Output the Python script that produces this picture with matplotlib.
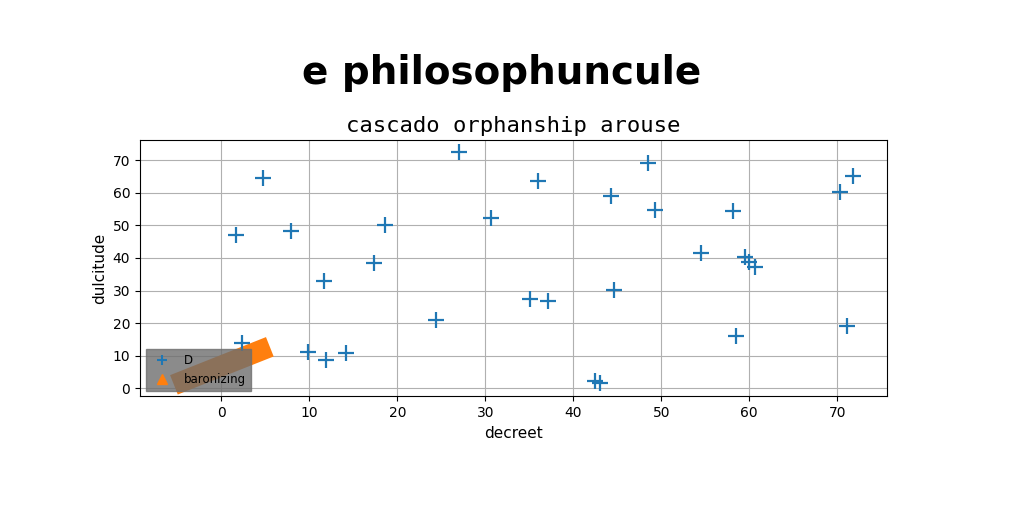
import matplotlib
matplotlib.use("Agg")
import matplotlib.pyplot as plt
from matplotlib.lines import Line2D

# series "D" (blue plus markers)
d_x = [1.6, 4.7, 2.3, 7.9, 9.8, 11.9, 14.2, 11.7, 17.4, 18.6, 24.4, 27.0, 30.6,
       36.0, 35.1, 37.1, 42.5, 43.0, 44.3, 44.6, 48.5, 49.3, 54.5, 58.2, 58.5,
       59.5, 60.0, 60.6, 70.3, 71.8, 71.1]
d_y = [47.0, 64.5, 14.0, 48.2, 11.0, 8.5, 10.8, 33.0, 38.6, 50.2, 21.0, 72.7, 52.3,
       63.8, 27.3, 26.7, 2.2, 1.5, 59.0, 30.1, 69.3, 54.8, 41.5, 54.4, 16.0,
       40.3, 38.8, 37.1, 60.2, 65.2, 19.0]

# series "baronizing" (thick orange stroke)
bar_x = [-5.4, 5.5]
bar_y = [1.0, 12.7]

fig = plt.figure(figsize=(10.24, 5.12), dpi=100)
ax = fig.add_axes([0.1367, 0.2256, 0.7295, 0.501])

ax.scatter(d_x, d_y, marker='+', s=135, linewidths=1.6, color='#1f77b4', zorder=3)
ax.plot(bar_x, bar_y, color='#ff7f0e', lw=15, solid_capstyle='butt', zorder=2)

ax.grid(True, color='#b0b0b0', lw=0.8)
ax.set_axisbelow(True)
ax.set_xlabel('decreet', fontsize=11)
ax.set_ylabel('dulcitude', fontsize=11)
ax.set_title('cascado orphanship arouse', fontsize=16, family='DejaVu Sans Mono')
fig.suptitle('e philosophuncule', fontsize=28, fontweight='heavy',
             family='DejaVu Sans', x=0.49, y=0.895)

handles = [
    Line2D([], [], ls='', marker='+', color='#1f77b4', markersize=7, mew=1.5),
    Line2D([], [], ls='', marker='^', color='#ff7f0e', markersize=7),
]
leg = ax.legend(handles, ['D', 'baronizing'], loc='lower left', fontsize=8.5,
                facecolor='#6e6e6e', edgecolor='#6e6e6e', framealpha=0.8,
                fancybox=False)
leg.set_zorder(5)

fig.savefig('out.png', dpi=100)
